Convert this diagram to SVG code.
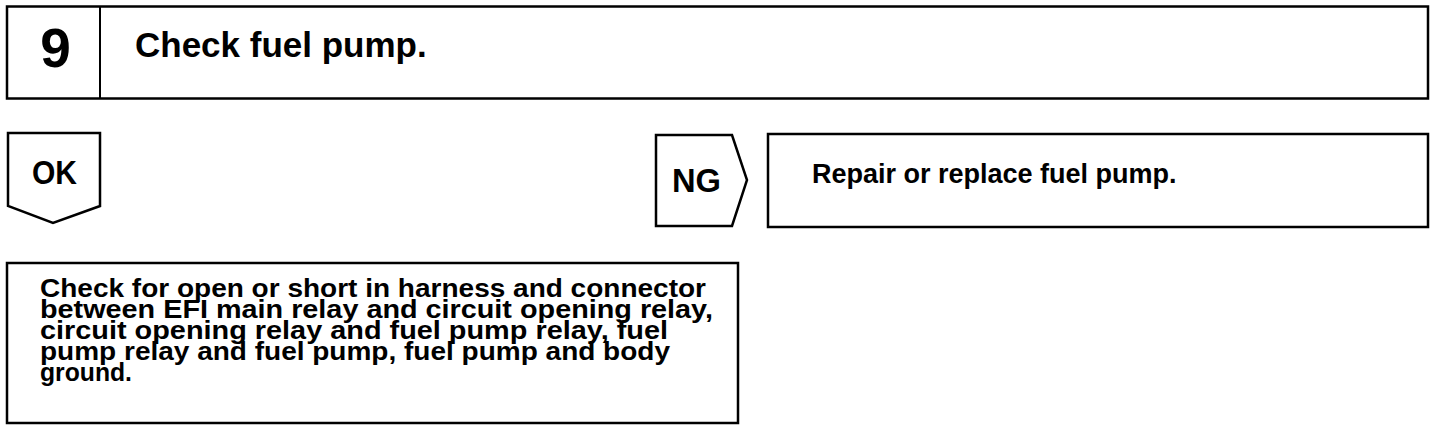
<svg xmlns="http://www.w3.org/2000/svg" width="1440" height="432" viewBox="0 0 1440 432">
<style>
.box{fill:#fff;stroke:#000;stroke-width:2.5}
.t{font-family:"Liberation Sans",Arial,sans-serif;font-weight:bold;fill:#000}
</style>
<rect width="1440" height="432" fill="#fff"/>
<g id="step">
<rect class="box" x="7" y="6.5" width="1421" height="92"/>
<line x1="100" y1="6.5" x2="100" y2="98.5" stroke="#000" stroke-width="2"/>
<text class="t" x="55.5" y="67" font-size="55" text-anchor="middle">9</text>
<text class="t" x="135" y="57" font-size="35">Check fuel pump.</text>
</g>
<g id="ok">
<polygon class="box" points="8,133 100,133 100,206 53,223 8,206"/>
<text class="t" x="32" y="184" font-size="34" textLength="45" lengthAdjust="spacingAndGlyphs">OK</text>
</g>
<g id="ng">
<polygon class="box" points="656,135 732,135 747,180 732,226 656,226"/>
<text class="t" x="672" y="192" font-size="34" textLength="49" lengthAdjust="spacingAndGlyphs">NG</text>
</g>
<g id="repair">
<rect class="box" x="768" y="134" width="660" height="93"/>
<text class="t" x="812" y="183" font-size="27">Repair or replace fuel pump.</text>
</g>
<g id="check">
<rect class="box" x="7" y="263" width="731" height="160"/>
<g class="t" font-size="26">
<text x="40" y="297" textLength="666" lengthAdjust="spacingAndGlyphs">Check for open or short in harness and connector</text>
<text x="40" y="318" textLength="673" lengthAdjust="spacingAndGlyphs">between EFI main relay and circuit opening relay,</text>
<text x="40" y="339" textLength="628" lengthAdjust="spacingAndGlyphs">circuit opening relay and fuel pump relay, fuel</text>
<text x="40" y="360" textLength="630" lengthAdjust="spacingAndGlyphs">pump relay and fuel pump, fuel pump and body</text>
<text x="40" y="381" textLength="92" lengthAdjust="spacingAndGlyphs">ground.</text>
</g>
</g>
<g id="connectors"></g>
</svg>
